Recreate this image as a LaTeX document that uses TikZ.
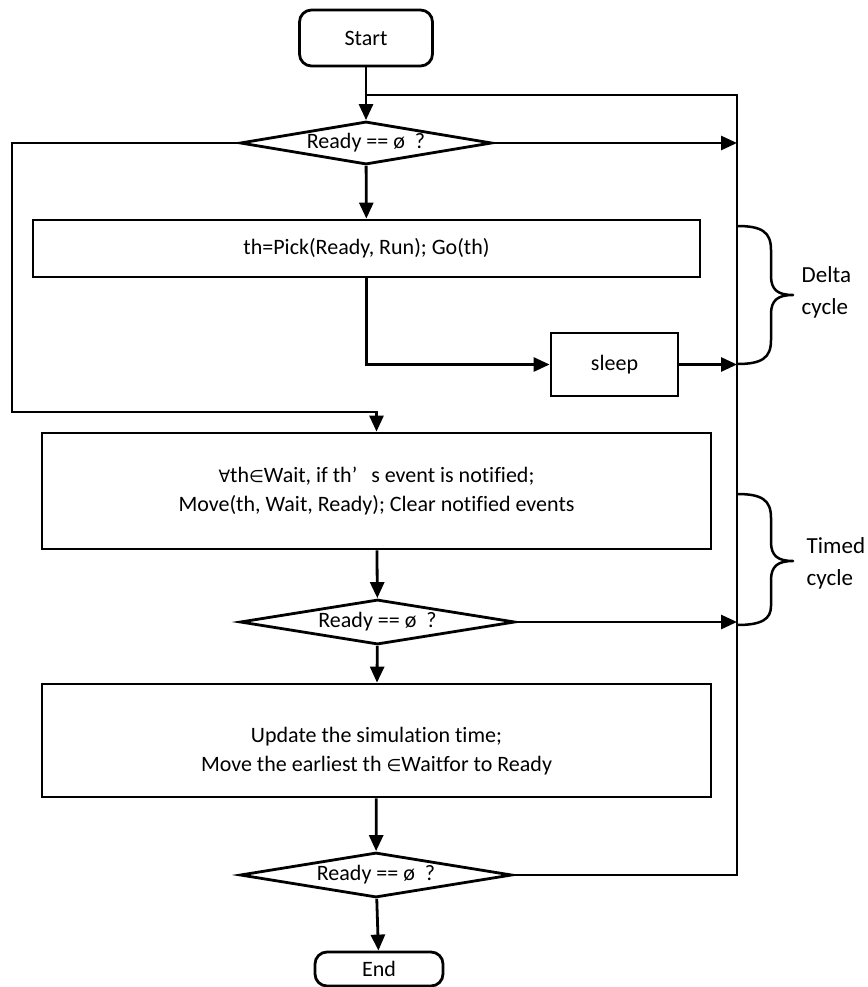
\documentclass[tikz,border=0pt]{standalone}
\usepackage{fontspec}
\setmainfont{Carlito}[Ligatures=NoCommon]
\newfontfamily\symfont{DejaVu Sans}
\usetikzlibrary{arrows.meta,shapes.geometric}

\newcommand{\forallsym}{{\symfont\fontsize{17}{20}\selectfont ∀}}
\newcommand{\insym}{{\symfont\fontsize{17}{20}\selectfont ∈}}

\begin{document}
\begin{tikzpicture}[x=1pt,y=-1pt,
  font=\fontsize{22}{29}\selectfont,
  line width=2.8pt,
  box/.style={draw, fill=white, rectangle, align=center, inner sep=0pt},
  term/.style={box, rounded corners=12pt, minimum width=133pt},
  dec/.style={draw, fill=white, diamond, aspect=5.8, inner sep=0pt},
  flow/.style={-{Triangle[length=16pt,width=14pt]}},
  side/.style={anchor=west, align=left, font=\fontsize{23}{32}\selectfont},
  curly/.style={line width=2.5pt, line join=round}]

\useasboundingbox (0,0) rectangle (867,987);

% flow nodes
\node[term, minimum height=56pt] (start) at (366,38) {Start};
\node[dec, minimum width=252pt, minimum height=43pt] (d1) at (366,143) {Ready == ø\ \ ?};
\node[box, minimum width=667pt, minimum height=57pt] (pick) at (366.5,248.5) {th=Pick(Ready, Run); Go(th)};
\node[box, minimum width=127pt, minimum height=63pt] (sleep) at (614.5,364.5) {sleep};
\node[box, minimum width=669pt, minimum height=116pt] (notify) at (376.5,491)
  {\forallsym th\insym Wait, if th’\hspace{14pt}s event is notified;\\
   Move(th, Wait, Ready); Clear notified events};
\node[dec, minimum width=275pt, minimum height=45pt] (d2) at (377.5,622) {Ready == ø\ \ ?};
% a tall strut on the first line sets the two lines a little below the middle
\node[box, minimum width=669pt, minimum height=113pt] (update) at (376.5,740.5)
  {\rule{0pt}{36pt}Update the simulation time;\\
   Move the earliest th \insym Waitfor to Ready};
\node[dec, minimum width=272pt, minimum height=45pt] (d3) at (376,875) {Ready == ø\ \ ?};
\node[term, minimum width=128pt, minimum height=34pt] (end) at (379,969) {End};

% routing points
\coordinate (loopR) at (737,95);
\coordinate (loopJ) at (366,95);
\coordinate (leftc) at (12,412);

% connectors
\draw[flow] (start) -- (d1);
\draw[flow] (d1) -- (pick);
\draw[flow] (d1.east) -- (d1.east -| loopR);
\draw[flow] (d1.west) -| (leftc) -| (notify.north);
\draw[flow] (pick.south) |- (sleep.west);
\draw[flow] (sleep.east) -- (sleep.east -| loopR);
\draw[flow] (notify) -- (d2);
\draw[flow] (d2.east) -- (d2.east -| loopR);
\draw[flow] (d2) -- (update);
\draw[flow] (update) -- (d3);
\draw[flow] (d3) -- (end);
\draw (d3.east) -| (loopR) -- (loopJ);

% braces marking the two cycles
\draw[curly] (737,226) .. controls (762,226) and (771,232) .. (771,250)
  -- (771,276) .. controls (771,290) and (778,295) .. (793,295)
  .. controls (778,295) and (771,300) .. (771,314)
  -- (771,340) .. controls (771,358) and (762,364) .. (737,364);
\node[side] (delta) at (797,292) {Delta\\cycle};

\draw[curly] (737,494) .. controls (762,494) and (771,500) .. (771,518)
  -- (771,542) .. controls (771,556) and (778,561) .. (793,561)
  .. controls (778,561) and (771,566) .. (771,580)
  -- (771,606) .. controls (771,619) and (762,625) .. (737,625);
\node[side] (timed) at (802,563) {Timed\\cycle};

\end{tikzpicture}
\end{document}
